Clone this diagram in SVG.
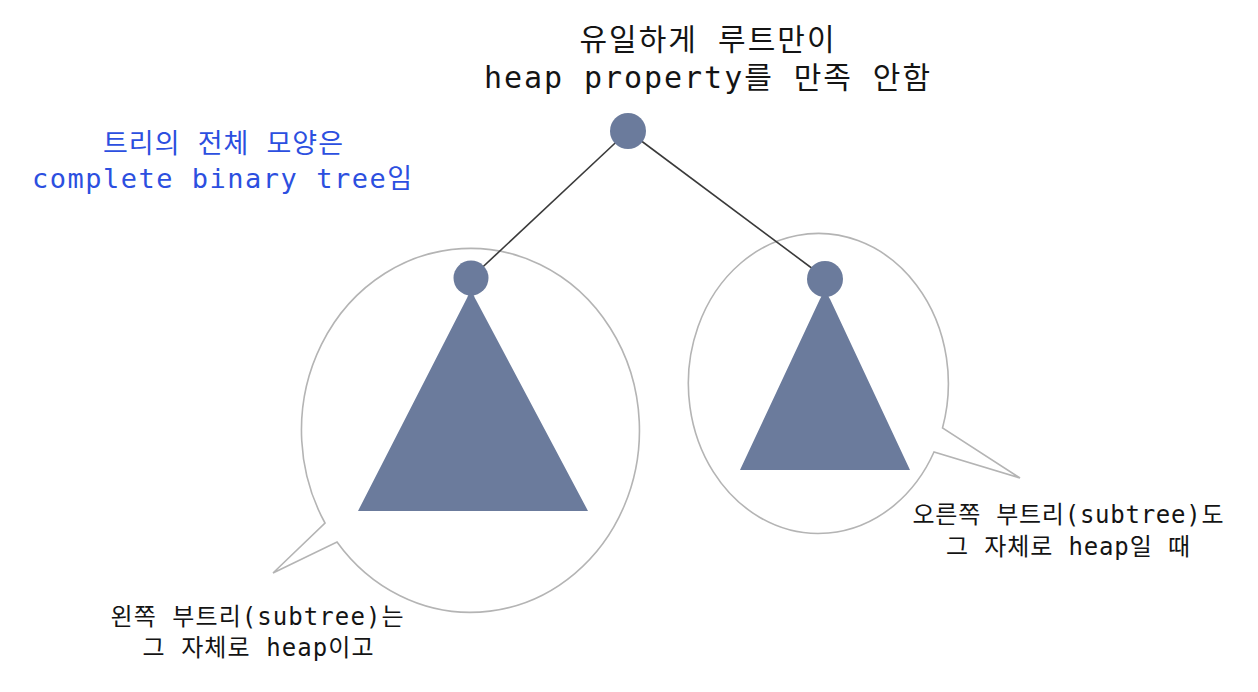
<svg xmlns="http://www.w3.org/2000/svg" width="1258" height="692" viewBox="0 0 1258 692">
<style>
.bubble{fill:#fff;stroke:#b4b4b4;stroke-width:1.6}
.node{fill:#6b7b9c}
.edge{stroke:#3a3a3a;stroke-width:1.6;fill:none}
.t{font-family:"DejaVu Sans Mono","Noto Sans CJK KR",monospace;fill:#141414;text-anchor:middle}
.blue{fill:#2c4fe0}
</style>
<rect width="1258" height="692" fill="#fff"/>
<g id="left-bubble">
<path class="bubble" d="M325,523 A169,182 0 1 1 337,542 L273,573 Z"/>
</g>
<g id="right-bubble">
<path class="bubble" d="M942.5,428 A130,150 0 1 0 934,452 L1020,478 Z"/>
</g>
<g id="connectors">
<line class="edge" x1="628" y1="131" x2="471" y2="278"/>
<line class="edge" x1="628" y1="131" x2="825" y2="278"/>
</g>
<g id="root">
<circle class="node" cx="628" cy="131" r="18"/>
</g>
<g id="left-subtree">
<circle class="node" cx="471" cy="278" r="17.5"/>
<path class="node" d="M471,290 C474,294 474,297 476,300 L588,511 L358,511 L466,300 C468,297 468,294 471,290 Z"/>
</g>
<g id="right-subtree">
<circle class="node" cx="825" cy="279" r="18"/>
<path class="node" d="M825,291 C828,294 828,296 830,299 L910,470 L740,470 L820,299 C822,296 822,294 825,291 Z"/>
</g>
<g id="top-label">
<text class="t" x="707" y="50" font-size="30" textLength="255" lengthAdjust="spacing">유일하게 루트만이</text>
<text class="t" x="707" y="88" font-size="30" textLength="446" lengthAdjust="spacing">heap property를 만족 안함</text>
</g>
<g id="shape-label">
<text class="t blue" x="223" y="153" font-size="27" textLength="240" lengthAdjust="spacing">트리의 전체 모양은</text>
<text class="t blue" x="222" y="188" font-size="27" textLength="380" lengthAdjust="spacing">complete binary tree임</text>
</g>
<g id="left-label">
<text class="t" x="257" y="625" font-size="24" textLength="293" lengthAdjust="spacing">왼쪽 부트리(subtree)는</text>
<text class="t" x="258" y="656" font-size="24" textLength="231" lengthAdjust="spacing">그 자체로 heap이고</text>
</g>
<g id="right-label">
<text class="t" x="1068" y="523" font-size="24" textLength="311" lengthAdjust="spacing">오른쪽 부트리(subtree)도</text>
<text class="t" x="1068" y="555" font-size="24" textLength="244" lengthAdjust="spacing">그 자체로 heap일 때</text>
</g>
</svg>
